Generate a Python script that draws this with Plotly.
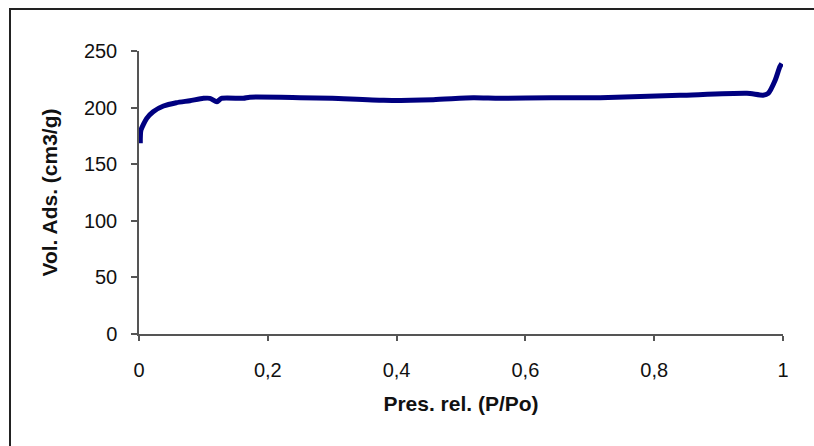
import plotly.graph_objects as go

# Data (relative pressure vs adsorbed volume)
pres_rel = [0.002, 0.003, 0.012, 0.022, 0.038, 0.058, 0.079, 0.100, 0.110, 0.121,
            0.128, 0.162, 0.172, 0.250, 0.300, 0.380, 0.457, 0.519, 0.560, 0.640,
            0.716, 0.840, 0.944, 0.969, 0.977, 0.988, 0.995, 0.998]
vol_ads = [168.5, 180.0, 190.5, 196.4, 201.4, 204.3, 206.1, 208.2, 208.2, 205.2,
           208.2, 208.2, 209.2, 208.8, 208.2, 206.4, 207.0, 208.6, 208.2, 208.8,
           208.8, 210.8, 212.6, 211.0, 212.6, 224.4, 236.0, 239.0]

x_tickvals = [0, 0.2, 0.4, 0.6, 0.8, 1]
x_ticktext = ["0", "0,2", "0,4", "0,6", "0,8", "1"]
y_tickvals = [0, 50, 100, 150, 200, 250]

W, H = 814, 446
L, R, T, B = 139, 31, 51, 112
pw, ph = W - L - R, H - T - B

def px_x(p):
    return (p - L) / pw

def px_y(p):
    return (H - B - p) / ph

fig = go.Figure()
fig.add_trace(go.Scatter(
    x=pres_rel, y=vol_ads, mode="lines",
    line=dict(color="#000080", width=5, shape="spline", smoothing=0.6),
    hoverinfo="skip", showlegend=False,
))

font_family = "Liberation Sans, Arial, sans-serif"
axis_common = dict(
    showgrid=False, zeroline=False, showline=True, linecolor="#555555", linewidth=1.5,
    ticks="outside", tickcolor="#555555", tickwidth=1.5,
    tickfont=dict(family=font_family, size=20, color="#111111"),
    mirror=False,
)

fig.update_layout(
    width=W, height=H,
    margin=dict(l=L, r=R, t=T, b=B),
    paper_bgcolor="white", plot_bgcolor="white",
    xaxis=dict(range=[0, 1], tickvals=x_tickvals, ticktext=x_ticktext, ticklen=5,
               ticklabelstandoff=12,
               title=dict(text="<b>Pres. rel. (P/Po)</b>", standoff=17,
                          font=dict(family=font_family, size=21, color="#111111")),
               **axis_common),
    yaxis=dict(range=[0, 250], tickvals=y_tickvals, ticklen=6,
               ticklabelstandoff=10,
               title=dict(text="<b>Vol. Ads. (cm3/g)</b>", standoff=21,
                          font=dict(family=font_family, size=21, color="#111111")),
               **axis_common),
    shapes=[
        dict(type="line", xref="paper", yref="paper",
             x0=px_x(9), x1=px_x(830), y0=px_y(9), y1=px_y(9),
             line=dict(color="#222222", width=2)),
        dict(type="line", xref="paper", yref="paper",
             x0=px_x(10), x1=px_x(10), y0=px_y(8), y1=px_y(460),
             line=dict(color="#222222", width=2)),
    ],
)

fig.write_html("out.html")
